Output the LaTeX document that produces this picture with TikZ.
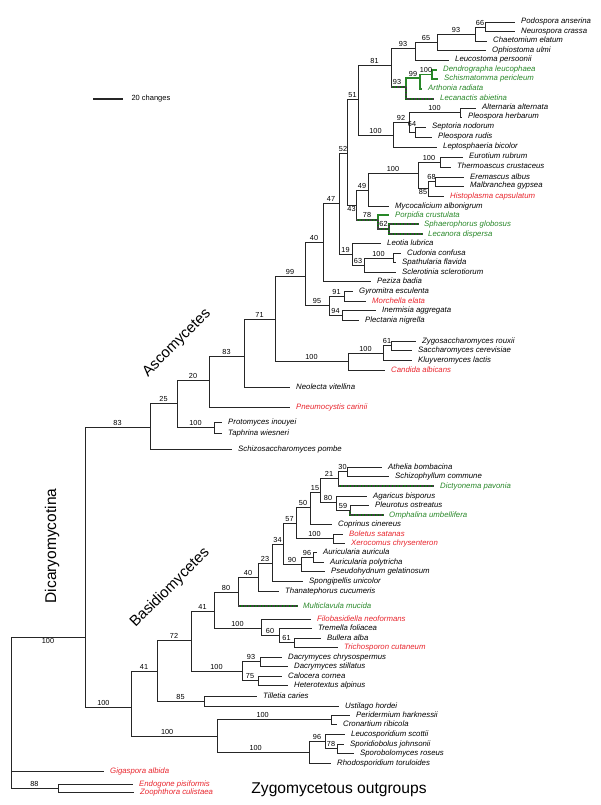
\documentclass[tikz,border=0pt]{standalone}
\usepackage{fontspec}
\setmainfont{Liberation Sans}
\usetikzlibrary{positioning,calc}
\definecolor{taxred}{RGB}{232,36,44}
\definecolor{taxgreen}{RGB}{40,135,40}
\tikzset{
  br/.style={draw=black!85, line width=0.9pt},
  licthin/.style={draw=taxgreen, line width=1.1pt},
  lichen/.style={draw=green!50!black, line width=2.6pt, postaction={draw=black!75, line width=1.2pt, dash pattern=on 0.7pt off 0.7pt}},
  leaf/.style={anchor=west, inner xsep=6pt, inner ysep=0pt, text height=5.5pt, text depth=1.5pt, font=\fontsize{7.8}{9}\selectfont\itshape},
  redtaxon/.style={text=taxred},
  lichtaxon/.style={text=taxgreen},
  bs/.style={above, inner sep=1.2pt, text=black, font=\fontsize{7.3}{8}\selectfont},
  clade/.style={font=\fontsize{15}{18}\selectfont},
}
\begin{document}
\begin{tikzpicture}[x=1pt, y=-1pt]
		\useasboundingbox (0,0) rectangle (600,805);
		% scale bar
		\coordinate (sb1) at (93,99);
		\coordinate (sb2) at (123,99);
		\draw[black!85, line width=2pt] (sb1) -- (sb2);
		\node[anchor=west, font=\fontsize{7.5}{8}\selectfont] (sbt) at (128,99) {20 changes};
		
		% ---- Ascomycetes: taxa
		\node[leaf] (podo) at (515,22) {Podospora anserina};
		\node[leaf] (neur) at (515,31.5) {Neurospora crassa};
		\node[leaf] (chae) at (487,41) {Chaetomium elatum};
		\node[leaf] (ophi) at (486,50.5) {Ophiostoma ulmi};
		\node[leaf] (leuc) at (449,60) {Leucostoma persoonii};
		\node[leaf, lichtaxon] (dend) at (437,70) {Dendrographa leucophaea};
		\node[leaf, lichtaxon] (schi) at (438,79) {Schismatomma pericleum};
		\node[leaf, lichtaxon] (arth) at (422,89) {Arthonia radiata};
		\node[leaf, lichtaxon] (lecn) at (434,99) {Lecanactis abietina};
		\node[leaf] (alte) at (476,108) {Alternaria alternata};
		\node[leaf] (pleh) at (462,117) {Pleospora herbarum};
		\node[leaf] (sept) at (426,127) {Septoria nodorum};
		\node[leaf] (pler) at (432,137) {Pleospora rudis};
		\node[leaf] (lept) at (437,147) {Leptosphaeria bicolor};
		\node[leaf] (euro) at (463,157) {Eurotium rubrum};
		\node[leaf] (ther) at (451,167) {Thermoascus crustaceus};
		\node[leaf] (erem) at (464,177) {Eremascus albus};
		\node[leaf] (malb) at (464,186) {Malbranchea gypsea};
		\node[leaf, redtaxon] (hist) at (444,196) {Histoplasma capsulatum};
		\node[leaf] (myco) at (389,206) {Mycocalicium albonigrum};
		\node[leaf, lichtaxon] (porp) at (389,215) {Porpidia crustulata};
		\node[leaf, lichtaxon] (spha) at (418,224) {Sphaerophorus globosus};
		\node[leaf, lichtaxon] (lecd) at (422,234) {Lecanora dispersa};
		\node[leaf] (leot) at (381,243) {Leotia lubrica};
		\node[leaf] (cudo) at (401,253) {Cudonia confusa};
		\node[leaf] (spat) at (396,262) {Spathularia flavida};
		\node[leaf] (scle) at (396,272) {Sclerotinia sclerotiorum};
		\node[leaf] (pezi) at (371,281) {Peziza badia};
		\node[leaf] (gyro) at (353,291) {Gyromitra esculenta};
		\node[leaf, redtaxon] (morc) at (366,301) {Morchella elata};
		\node[leaf] (iner) at (376,310) {Inermisia aggregata};
		\node[leaf] (plec) at (359,320) {Plectania nigrella};
		\node[leaf] (zygo) at (416,341) {Zygosaccharomyces rouxii};
		\node[leaf] (sacc) at (412,350) {Saccharomyces cerevisiae};
		\node[leaf] (kluy) at (412,360) {Kluyveromyces lactis};
		\node[leaf, redtaxon] (cand) at (385,370) {Candida albicans};
		\node[leaf] (neol) at (290,387) {Neolecta vitellina};
		\node[leaf, redtaxon] (pneu) at (290,407) {Pneumocystis carinii};
		\node[leaf] (prot) at (222,422) {Protomyces inouyei};
		\node[leaf] (taph) at (222,433) {Taphrina wiesneri};
		\node[leaf] (schp) at (232,449) {Schizosaccharomyces pombe};
		
		% ---- Basidiomycetes: taxa
		\node[leaf] (athe) at (382,467) {Athelia bombacina};
		\node[leaf] (schc) at (389,476) {Schizophyllum commune};
		\node[leaf, lichtaxon] (dict) at (434,486) {Dictyonema pavonia};
		\node[leaf] (agar) at (367,496) {Agaricus bisporus};
		\node[leaf] (pleu) at (369,505) {Pleurotus ostreatus};
		\node[leaf, lichtaxon] (omph) at (383,515) {Omphalina umbellifera};
		\node[leaf] (copr) at (332,524) {Coprinus cinereus};
		\node[leaf, redtaxon] (bole) at (343,534) {Boletus satanas};
		\node[leaf, redtaxon] (xero) at (345,543) {Xerocomus chrysenteron};
		\node[leaf] (auau) at (317,552) {Auricularia auricula};
		\node[leaf] (aupo) at (324,562) {Auricularia polytricha};
		\node[leaf] (pseu) at (325,571) {Pseudohydnum gelatinosum};
		\node[leaf] (spon) at (303,581) {Spongipellis unicolor};
		\node[leaf] (than) at (279,591) {Thanatephorus cucumeris};
		\node[leaf, lichtaxon] (mult) at (297,606) {Multiclavula mucida};
		\node[leaf, redtaxon] (filo) at (311,619) {Filobasidiella neoformans};
		\node[leaf] (trem) at (312,628) {Tremella foliacea};
		\node[leaf] (bull) at (321,638) {Bullera alba};
		\node[leaf, redtaxon] (tric) at (338,647) {Trichosporon cutaneum};
		\node[leaf] (dacc) at (282,657) {Dacrymyces chrysospermus};
		\node[leaf] (dacs) at (288,666) {Dacrymyces stillatus};
		\node[leaf] (calo) at (282,676) {Calocera cornea};
		\node[leaf] (hete) at (288,685) {Heterotextus alpinus};
		\node[leaf] (till) at (257,696) {Tilletia caries};
		\node[leaf] (usti) at (339,706) {Ustilago hordei};
		\node[leaf] (peri) at (350,715) {Peridermium harknessii};
		\node[leaf] (cron) at (337,724) {Cronartium ribicola};
		\node[leaf] (leus) at (345,734) {Leucosporidium scottii};
		\node[leaf] (spjo) at (344,744) {Sporidiobolus johnsonii};
		\node[leaf] (spro) at (354,753) {Sporobolomyces roseus};
		\node[leaf] (rhod) at (331,763) {Rhodosporidium toruloides};
		
		% ---- outgroups
		\node[leaf, redtaxon] (giga) at (104,771) {Gigaspora albida};
		\node[leaf, redtaxon] (endo) at (133,784) {Endogone pisiformis};
		\node[leaf, redtaxon] (zoop) at (134,792) {Zoophthora culistaea};
		
		% ---- internal nodes
		\coordinate (n66) at (485,27);
		\coordinate (n93a) at (475,34);
		\coordinate (n65) at (437,42);
		\coordinate (n93b) at (415,48);
		\coordinate (n100g) at (432,74.5);
		\coordinate (n99) at (420,78);
		\coordinate (n93g) at (406,87);
		\coordinate (n81) at (391,65);
		\coordinate (n100p) at (460,112.5);
		\coordinate (n64) at (415,132);
		\coordinate (n92) at (409,122);
		\coordinate (n100l) at (393,135);
		\coordinate (n51) at (358,99);
		\coordinate (n100e) at (440,162);
		\coordinate (n68) at (435,181.5);
		\coordinate (n85) at (428,188);
		\coordinate (n100f) at (418,173);
		\coordinate (n49) at (368,190);
		\coordinate (n62) at (389,229);
		\coordinate (n78) at (378,220);
		\coordinate (n43) at (356,205);
		\coordinate (n52) at (347,153);
		\coordinate (n100c) at (393,258);
		\coordinate (n63) at (364,265);
		\coordinate (n19) at (352,254);
		\coordinate (n47) at (339,203);
		\coordinate (n40) at (323,242);
		\coordinate (n91) at (344,296);
		\coordinate (n94) at (342,315);
		\coordinate (n95) at (329,305);
		\coordinate (n99a) at (305,276);
		\coordinate (n61) at (391,345.5);
		\coordinate (n100k) at (383,353);
		\coordinate (n100s) at (348,361);
		\coordinate (n71) at (275,319);
		\coordinate (n83a) at (244,356);
		\coordinate (n20) at (209,380);
		\coordinate (n100t) at (214,427);
		\coordinate (n25) at (177,403);
		\coordinate (n83b) at (150,427);
		\coordinate (n30) at (347,471);
		\coordinate (n21) at (338,478);
		\coordinate (n59) at (350,510);
		\coordinate (n80a) at (336,502);
		\coordinate (n15) at (320,492);
		\coordinate (n50) at (310,507);
		\coordinate (n100b) at (333,538.5);
		\coordinate (n57) at (296,523);
		\coordinate (n96) at (313,557);
		\coordinate (n90) at (301,564);
		\coordinate (n34) at (283,544);
		\coordinate (n23) at (272,563);
		\coordinate (n40b) at (258,577);
		\coordinate (n80b) at (238,592);
		\coordinate (n61b) at (294,642.5);
		\coordinate (n60) at (279,635);
		\coordinate (n100fi) at (261,628);
		\coordinate (n41b) at (214,611);
		\coordinate (n93d) at (260,661.5);
		\coordinate (n75) at (258,680.5);
		\coordinate (n100d) at (242,671);
		\coordinate (n72) at (191,640);
		\coordinate (n85b) at (204,701);
		\coordinate (n41c) at (157,671);
		\coordinate (n100r1) at (331,719.5);
		\coordinate (n78b) at (337,748.5);
		\coordinate (n96b) at (325,741);
		\coordinate (n100r2) at (309,752);
		\coordinate (n100u) at (217,736);
		\coordinate (nbas) at (131,707);
		\coordinate (ndic) at (85,637);
		\coordinate (n88) at (58,788);
		\coordinate (root) at (11,712);
		
		% ---- Ascomycetes: branches
		\draw[br] (n66) |- (podo.west);
		\draw[br] (n66) |- (neur.west);
		\draw[br] (n93a) |- (n66) node[bs,pos=.75]{66};
		\draw[br] (n93a) |- (chae.west);
		\draw[br] (n65) |- (n93a) node[bs,pos=.75]{93};
		\draw[br] (n65) |- (ophi.west);
		\draw[br] (n93b) |- (n65) node[bs,pos=.75]{65};
		\draw[br] (n93b) |- (leuc.west);
		\draw[br] (n81) |- (n93b) node[bs,pos=.75]{93};
		\draw[licthin] (n100g) |- (dend.west);
		\draw[licthin] (n100g) |- (schi.west);
		\draw[licthin] (n99) |- (n100g) node[bs,pos=.75]{100};
		\draw[licthin] (n99) |- (arth.west);
		\draw[licthin] (n93g) |- (n99) node[bs,pos=.75]{99};
		\draw[lichen] (n93g) |- (lecn.west);
		\draw[br] (n81) -- (n81 |- n93g);
		\draw[lichen] (n81 |- n93g) -- (n93g) node[bs,pos=.4]{93};
		\draw[br] (n51) |- (n81) node[bs,pos=.75]{81};
		\draw[br] (n100p) |- (alte.west);
		\draw[br] (n100p) |- (pleh.west);
		\draw[br] (n92) |- (n100p) node[bs,pos=.75]{100};
		\draw[br] (n64) |- (sept.west);
		\draw[br] (n64) |- (pler.west);
		\draw[br] (n92) |- (n64) node[bs,pos=.75,yshift=4pt]{64};
		\draw[br] (n100l) |- (n92) node[bs,pos=.75]{92};
		\draw[br] (n100l) |- (lept.west);
		\draw[br] (n51) |- (n100l) node[bs,pos=.75]{100};
		\draw[br] (n52) |- (n51) node[bs,pos=.75]{51};
		\draw[br] (n100e) |- (euro.west);
		\draw[br] (n100e) |- (ther.west);
		\draw[br] (n68) |- (erem.west);
		\draw[br] (n68) |- (malb.west);
		\draw[br] (n85) |- (n68) node[bs,pos=.75]{68};
		\draw[br] (n85) |- (hist.west);
		\draw[br] (n100f) |- (n100e) node[bs,pos=.75]{100};
		\draw[br] (n100f) |- (n85) node[bs,pos=.75,below]{85};
		\draw[br] (n49) |- (n100f) node[bs,pos=.75]{100};
		\draw[br] (n49) |- (myco.west);
		\draw[br] (n43) |- (n49) node[bs,pos=.75]{49};
		\draw[licthin] (n78) |- (porp.west);
		\draw[lichen] (n62) |- (spha.west);
		\draw[lichen] (n62) |- (lecd.west);
		\draw[lichen] (n78) |- (n62) node[bs,pos=.75]{62};
		\draw[br] (n43) -- (n43 |- n78);
		\draw[lichen] (n43 |- n78) -- (n78) node[bs,pos=.5]{78};
		\draw[br] (n52) |- (n43) node[bs,pos=.75,below]{43};
		\draw[br] (n47) |- (n52) node[bs,pos=.75]{52};
		\draw[br] (n100c) |- (cudo.west);
		\draw[br] (n100c) |- (spat.west);
		\draw[br] (n63) |- (n100c) node[bs,pos=.75]{100};
		\draw[br] (n63) |- (scle.west);
		\draw[br] (n19) |- (n63) node[bs,pos=.75]{63};
		\draw[br] (n19) |- (leot.west);
		\draw[br] (n47) |- (n19) node[bs,pos=.75]{19};
		\draw[br] (n40) |- (n47) node[bs,pos=.75]{47};
		\draw[br] (n40) |- (pezi.west);
		\draw[br] (n99a) |- (n40) node[bs,pos=.75]{40};
		\draw[br] (n91) |- (gyro.west);
		\draw[br] (n91) |- (morc.west);
		\draw[br] (n94) |- (iner.west);
		\draw[br] (n94) |- (plec.west);
		\draw[br] (n95) |- (n91) node[bs,pos=.75]{91};
		\draw[br] (n95) |- (n94) node[bs,pos=.75]{94};
		\draw[br] (n99a) |- (n95) node[bs,pos=.75]{95};
		\draw[br] (n71) |- (n99a) node[bs,pos=.75]{99};
		\draw[br] (n61) |- (zygo.west);
		\draw[br] (n61) |- (sacc.west);
		\draw[br] (n100k) |- (n61) node[bs,pos=.75]{61};
		\draw[br] (n100k) |- (kluy.west);
		\draw[br] (n100s) |- (n100k) node[bs,pos=.75]{100};
		\draw[br] (n100s) |- (cand.west);
		\draw[br] (n71) |- (n100s) node[bs,pos=.75]{100};
		\draw[br] (n83a) |- (n71) node[bs,pos=.75]{71};
		\draw[br] (n83a) |- (neol.west);
		\draw[br] (n20) |- (n83a) node[bs,pos=.75]{83};
		\draw[br] (n20) |- (pneu.west);
		\draw[br] (n25) |- (n20) node[bs,pos=.75]{20};
		\draw[br] (n100t) |- (prot.west);
		\draw[br] (n100t) |- (taph.west);
		\draw[br] (n25) |- (n100t) node[bs,pos=.75]{100};
		\draw[br] (n83b) |- (n25) node[bs,pos=.75]{25};
		\draw[br] (n83b) |- (schp.west);
		
		% ---- Basidiomycetes: branches
		\draw[br] (n30) |- (athe.west);
		\draw[br] (n30) |- (schc.west);
		\draw[br] (n21) |- (n30) node[bs,pos=.75]{30};
		\draw[br] (n21) -- (n21 |- dict.west);
		\draw[lichen] (n21 |- dict.west) -- (dict.west);
		\draw[br] (n59) |- (pleu.west);
		\draw[lichen] (n59) |- (omph.west);
		\draw[br] (n80a) |- (agar.west);
		\draw[br] (n80a) |- (n59) node[bs,pos=.75]{59};
		\draw[br] (n15) |- (n21) node[bs,pos=.75]{21};
		\draw[br] (n15) |- (n80a) node[bs,pos=.75]{80};
		\draw[br] (n50) |- (n15) node[bs,pos=.75]{15};
		\draw[br] (n50) |- (copr.west);
		\draw[br] (n100b) |- (bole.west);
		\draw[br] (n100b) |- (xero.west);
		\draw[br] (n57) |- (n50) node[bs,pos=.75]{50};
		\draw[br] (n57) |- (n100b) node[bs,pos=.75]{100};
		\draw[br] (n96) |- (auau.west);
		\draw[br] (n96) |- (aupo.west);
		\draw[br] (n90) |- (n96) node[bs,pos=.75]{96};
		\draw[br] (n90) |- (pseu.west);
		\draw[br] (n34) |- (n57) node[bs,pos=.75]{57};
		\draw[br] (n34) |- (n90) node[bs,pos=.75]{90};
		\draw[br] (n23) |- (n34) node[bs,pos=.75]{34};
		\draw[br] (n23) |- (spon.west);
		\draw[br] (n40b) |- (n23) node[bs,pos=.75]{23};
		\draw[br] (n40b) |- (than.west);
		\draw[br] (n80b) |- (n40b) node[bs,pos=.75]{40};
		\draw[br] (n80b) -- (n80b |- mult.west);
		\draw[lichen] (n80b |- mult.west) -- (mult.west);
		\draw[br] (n61b) |- (bull.west);
		\draw[br] (n61b) |- (tric.west);
		\draw[br] (n60) |- (trem.west);
		\draw[br] (n60) |- (n61b) node[bs,pos=.75]{61};
		\draw[br] (n100fi) |- (filo.west);
		\draw[br] (n100fi) |- (n60) node[bs,pos=.75]{60};
		\draw[br] (n41b) |- (n80b) node[bs,pos=.75]{80};
		\draw[br] (n41b) |- (n100fi) node[bs,pos=.75]{100};
		\draw[br] (n93d) |- (dacc.west);
		\draw[br] (n93d) |- (dacs.west);
		\draw[br] (n75) |- (calo.west);
		\draw[br] (n75) |- (hete.west);
		\draw[br] (n100d) |- (n93d) node[bs,pos=.75]{93};
		\draw[br] (n100d) |- (n75) node[bs,pos=.75]{75};
		\draw[br] (n72) |- (n41b) node[bs,pos=.75]{41};
		\draw[br] (n72) |- (n100d) node[bs,pos=.75]{100};
		\draw[br] (n85b) |- (till.west);
		\draw[br] (n85b) |- (usti.west);
		\draw[br] (n41c) |- (n72) node[bs,pos=.75]{72};
		\draw[br] (n41c) |- (n85b) node[bs,pos=.75]{85};
		\draw[br] (n100r1) |- (peri.west);
		\draw[br] (n100r1) |- (cron.west);
		\draw[br] (n78b) |- (spjo.west);
		\draw[br] (n78b) |- (spro.west);
		\draw[br] (n96b) |- (leus.west);
		\draw[br] (n96b) |- (n78b) node[bs,pos=.75]{78};
		\draw[br] (n100r2) |- (n96b) node[bs,pos=.75]{96};
		\draw[br] (n100r2) |- (rhod.west);
		\draw[br] (n100u) |- (n100r1) node[bs,pos=.7]{100};
		\draw[br] (n100u) |- (n100r2) node[bs,pos=.71]{100};
		\draw[br] (nbas) |- (n41c) node[bs,pos=.75]{41};
		\draw[br] (nbas) |- (n100u) node[bs,pos=.71]{100};
		
		% ---- backbone and outgroups
		\draw[br] (ndic) |- (n83b) node[bs,pos=.75]{83};
		\draw[br] (ndic) |- (nbas) node[bs,pos=.70]{100};
		\draw[br] (root) |- (ndic) node[bs,pos=.75,below]{100};
		\draw[br] (root) |- (giga.west);
		\draw[br] (n88) |- (endo.west);
		\draw[br] (n88) |- (zoop.west);
		\draw[br] (root) |- (n88) node[bs,pos=.75]{88};
		
		% ---- group names
		\node[clade, rotate=45] (asco) at (177,343) {Ascomycetes};
		\node[clade, rotate=45] (basi) at (170,588) {Basidiomycetes};
		\node[clade, rotate=90, font=\fontsize{15.5}{18}\selectfont] (dica) at (52,546) {Dicaryomycotina};
		\node[font=\fontsize{15.6}{18}\selectfont] (zygo-out) at (339,790) {Zygomycetous outgroups};
	\end{tikzpicture}
\end{document}
